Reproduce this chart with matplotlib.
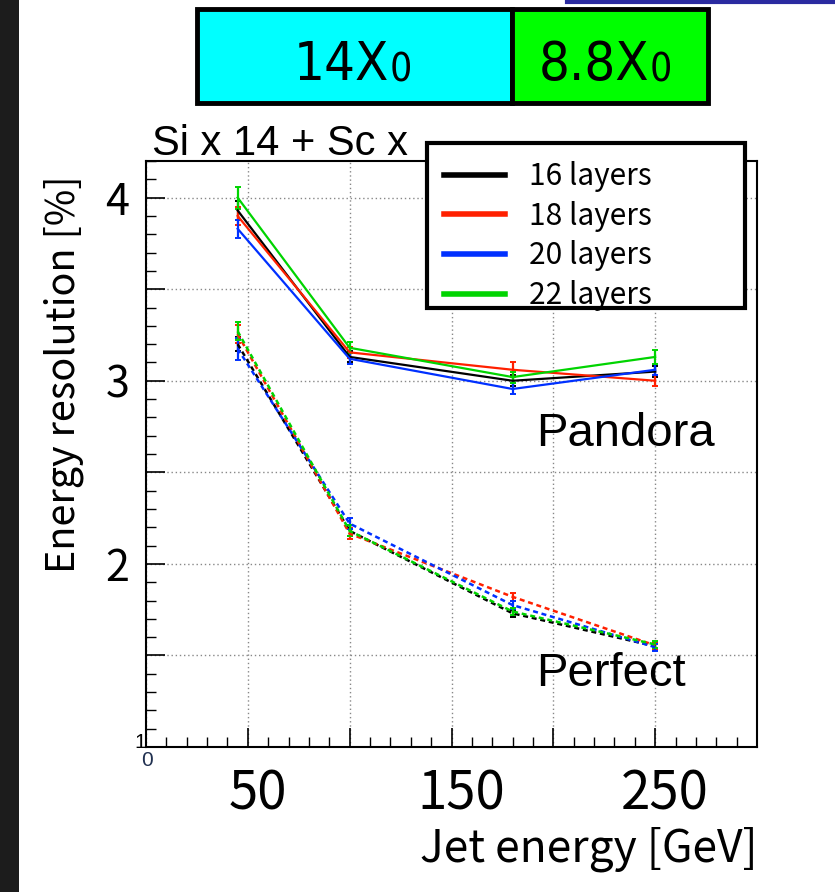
import matplotlib
matplotlib.use('Agg')
import matplotlib.pyplot as plt
from matplotlib.patches import Rectangle
from matplotlib.lines import Line2D
from matplotlib.ticker import MultipleLocator
from matplotlib.transforms import ScaledTranslation

W, H = 835, 892

# jet energies (GeV)
energies = [45, 100, 180, 250]
layers = ['16 layers', '18 layers', '20 layers', '22 layers']
colors = ['#000000', '#ff2000', '#0030ff', '#00d400']

# Pandora PFA resolution [%]
pandora = [
    [3.93, 3.13, 3.00, 3.05],
    [3.90, 3.155, 3.06, 3.00],
    [3.83, 3.12, 2.955, 3.06],
    [4.00, 3.18, 3.02, 3.13],
]
pandora_err = [
    [0.05, 0.03, 0.03, 0.03],
    [0.05, 0.03, 0.04, 0.03],
    [0.05, 0.03, 0.03, 0.03],
    [0.06, 0.03, 0.03, 0.04],
]
# perfect PFA resolution [%]
perfect = [
    [3.20, 2.18, 1.73, 1.55],
    [3.255, 2.165, 1.82, 1.555],
    [3.175, 2.22, 1.775, 1.545],
    [3.27, 2.18, 1.74, 1.56],
]
perfect_err = [
    [0.04, 0.03, 0.02, 0.02],
    [0.05, 0.03, 0.02, 0.02],
    [0.06, 0.03, 0.02, 0.02],
    [0.05, 0.03, 0.02, 0.02],
]

JP = ['Noto Sans CJK JP', 'DejaVu Sans']
ARIAL = ['Liberation Sans', 'DejaVu Sans']
NARROW = ['Liberation Sans Narrow', 'DejaVu Sans']


def fx(px):
    return px / W


def fy(py):
    return 1 - py / H


fig = plt.figure(figsize=(W / 100, H / 100), dpi=100)
ax = fig.add_axes([fx(146), fy(747), fx(757) - fx(146), fy(161) - fy(747)])

for i in range(4):
    ax.errorbar(energies, pandora[i], yerr=pandora_err[i], color=colors[i],
                lw=1.6, elinewidth=1.6, capsize=2.5, capthick=1.4)
    ax.errorbar(energies, perfect[i], yerr=perfect_err[i], color=colors[i],
                lw=1.8, ls=(0, (2, 1.5)), elinewidth=1.6, capsize=2.5, capthick=1.4)

ax.set_xlim(0, 300)
ax.set_ylim(1, 4.2)
ax.xaxis.set_minor_locator(MultipleLocator(10))
ax.yaxis.set_minor_locator(MultipleLocator(0.1))
ax.set_xticks(range(0, 301, 50))
ax.set_xticklabels(['', '50', '', '150', '', '250', ''], fontfamily=JP, fontsize=38)
ax.set_yticks([1, 1.5, 2, 2.5, 3, 3.5, 4])
ax.set_yticklabels(['', '', '2', '', '3', '', '4'], fontfamily=JP, fontsize=31)
ax.tick_params(which='both', direction='in', top=False, right=False)
ax.tick_params(which='major', length=14, width=1.2)
ax.tick_params(which='minor', length=7, width=1.0)
ax.tick_params(axis='x', pad=14)
ax.tick_params(axis='y', pad=12)
for lab in ax.get_xticklabels():
    lab.set_transform(lab.get_transform() + ScaledTranslation(0.1, 0, fig.dpi_scale_trans))
ax.grid(True, which='major', color='#888888', ls=(0, (1, 2)), lw=1.0)
for s in ax.spines.values():
    s.set_linewidth(1.5)

# axis titles (placed by hand, ROOT style)
fig.text(fx(64), fy(374), 'Energy resolution [%]', fontfamily=JP, fontsize=28.5,
         rotation=90, ha='center', va='center')
fig.text(fx(757), fy(862), 'Jet energy [GeV]', fontfamily=JP, fontsize=32,
         ha='right', va='baseline')

# small origin labels
fig.text(fx(140), fy(743), '1', fontfamily=ARIAL, fontsize=15, ha='center', va='center')
fig.text(fx(147), fy(761), '0', fontfamily=ARIAL, fontsize=15, ha='center', va='center',
         color='#203050')

ax.text(191.5, 2.71, 'Pandora', fontfamily=ARIAL, fontsize=34, va='center')
ax.text(191.5, 1.40, 'Perfect', fontfamily=ARIAL, fontsize=34, va='center')
fig.text(fx(152), fy(155), 'Si x 14 + Sc x', fontfamily=ARIAL, fontsize=30, va='baseline')

# legend box
fig.add_artist(Rectangle((fx(427), fy(308)), fx(745) - fx(427), fy(143) - fy(308),
                         transform=fig.transFigure, facecolor='white', edgecolor='black',
                         lw=3, zorder=3))
handles = [Line2D([], [], color=c, lw=4) for c in colors]
leg = fig.legend(handles, layers, loc='upper left', bbox_to_anchor=(fx(444), fy(161)),
                 frameon=False, prop={'family': JP, 'size': 21.5}, handlelength=2.05,
                 handletextpad=0.8, labelspacing=0.29, borderpad=0, borderaxespad=0)
leg.set_zorder(4)

# radiation length boxes
fig.add_artist(Rectangle((fx(197), fy(103)), fx(512) - fx(197), fy(9) - fy(103),
                         transform=fig.transFigure, facecolor='#00ffff', edgecolor='black', lw=3.5))
fig.add_artist(Rectangle((fx(512), fy(103)), fx(708) - fx(512), fy(9) - fy(103),
                         transform=fig.transFigure, facecolor='#00ff00', edgecolor='black', lw=3.5))
box_kw = dict(fontfamily=NARROW, fontstretch='condensed', va='baseline')
fig.text(fx(389), fy(80), '14X', fontsize=39, ha='right', **box_kw)
fig.text(fx(390), fy(82), '0', fontsize=28, ha='left', **box_kw)
fig.text(fx(649), fy(80), '8.8X', fontsize=39, ha='right', **box_kw)
fig.text(fx(650), fy(82), '0', fontsize=28, ha='left', **box_kw)

# slide decorations
fig.add_artist(Rectangle((0, 0), fx(19), 1, transform=fig.transFigure,
                         facecolor='#1c1c1c', edgecolor='none'))
fig.add_artist(Line2D([fx(567), 1], [fy(1.5), fy(1.5)], transform=fig.transFigure,
                      color='#2a2aa0', lw=3))

fig.savefig('out.png', dpi=100)
